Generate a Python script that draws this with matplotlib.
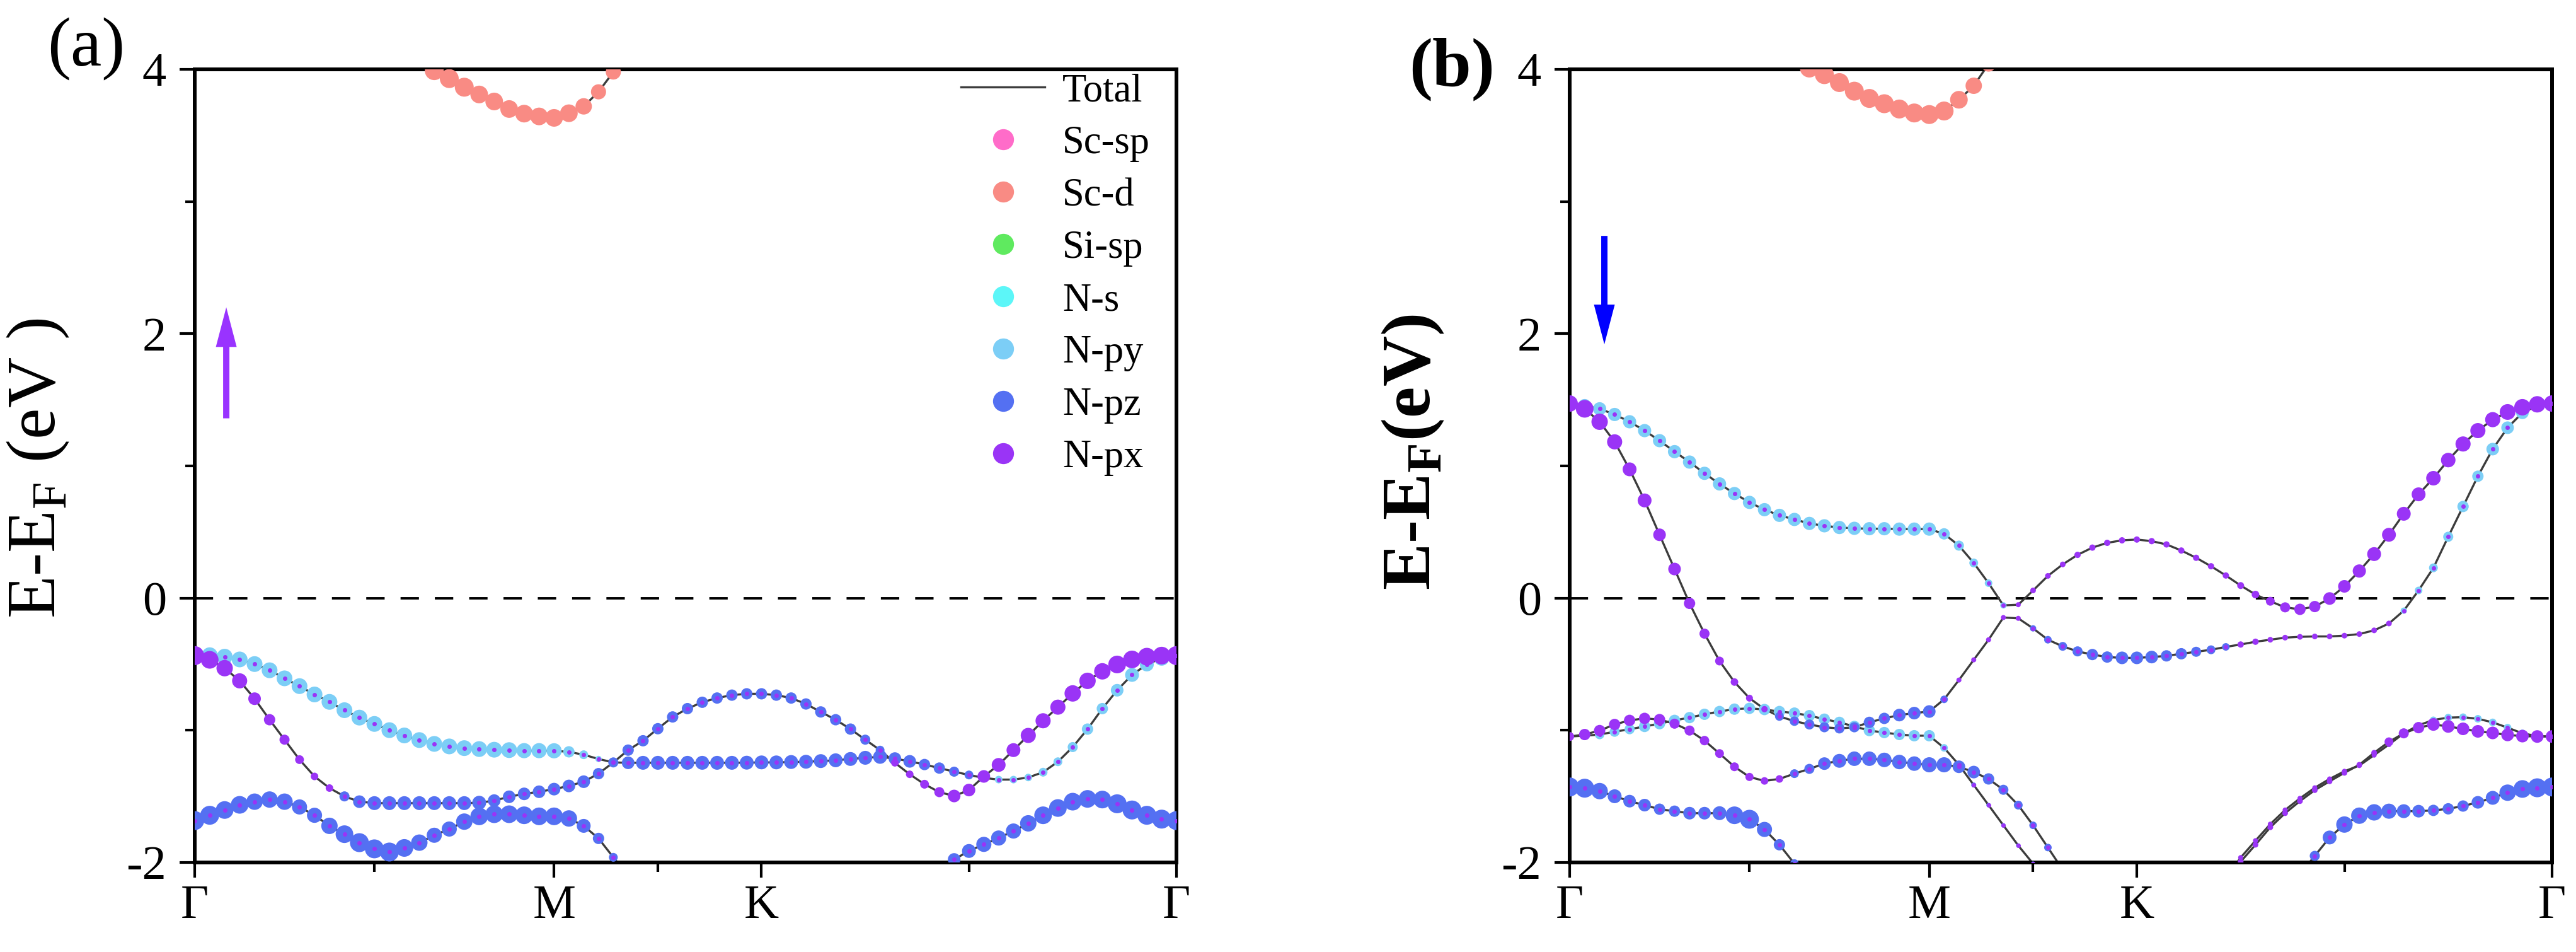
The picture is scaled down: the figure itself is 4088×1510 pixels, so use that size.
import numpy as np
import matplotlib
matplotlib.use("Agg")
import matplotlib.pyplot as plt
from matplotlib.lines import Line2D
from matplotlib.patches import FancyArrow

plt.rcParams["font.family"] = ["Liberation Serif", "DejaVu Serif"]
plt.rcParams["mathtext.fontset"] = "custom"
plt.rcParams["mathtext.rm"] = "Liberation Serif"
plt.rcParams["mathtext.bf"] = "Liberation Serif:bold"
plt.rcParams["axes.unicode_minus"] = False

W, H, DPI = 4088, 1510, 100
PX = 72.0 / DPI  # points per pixel
nan = np.nan

# k-path (hexagonal BZ)
K_LABELS = ["Γ", "M", "K", "Γ"]
K_NODES = [0.0, 0.5774, 0.9107, 1.5774]
K_GRID = [
    0.0000, 0.0241, 0.0481, 0.0722, 0.0962, 0.1203, 0.1443, 0.1684, 0.1925, 0.2165,
    0.2406, 0.2646, 0.2887, 0.3128, 0.3368, 0.3609, 0.3849, 0.4090, 0.4331, 0.4571,
    0.4812, 0.5052, 0.5293, 0.5533, 0.5774,
    0.6012, 0.6250, 0.6488, 0.6726, 0.6964, 0.7203, 0.7441, 0.7679, 0.7917, 0.8155,
    0.8393, 0.8631, 0.8869, 0.9107,
    0.9345, 0.9583, 0.9821, 1.0059, 1.0298, 1.0536, 1.0774, 1.1012, 1.1250, 1.1488,
    1.1726, 1.1964, 1.2202, 1.2440, 1.2679, 1.2917, 1.3155, 1.3393, 1.3631, 1.3869,
    1.4107, 1.4345, 1.4583, 1.4821, 1.5060, 1.5298, 1.5536, 1.5774,
]
Y_MAJOR = [-2, 0, 2, 4]
Y_MINOR = [-1, 1, 3]

ORBITALS = ["Sc-sp", "Sc-d", "Si-sp", "N-s", "N-py", "N-pz", "N-px"]
ORB_COLORS = ["#FF6CC9", "#F98B84", "#5FEA5F", "#5CF6F8", "#7CCEF6", "#5470F2", "#9A34F6"]
ORB_CODE = {"d": "Sc-d", "y": "N-py", "z": "N-pz", "x": "N-px"}
LINE_COLOR = "#3c3c3c"
CENTER_PX = 7  # small N-px weight shown on every N-p dot

# ---------------- panel (a): spin up ----------------
a1_e = [
    -0.435, -0.432, -0.443, -0.464, -0.499, -0.546, -0.607, -0.666, -0.729, -0.785,
    -0.848, -0.904, -0.952, -0.999, -1.039, -1.074, -1.103, -1.122, -1.135, -1.142,
    -1.147, -1.150, -1.154, -1.154, -1.155,
    -1.163, -1.185, -1.217, -1.243, -1.246, -1.246, -1.246, -1.246, -1.246, -1.246,
    -1.246, -1.246, -1.245, -1.243,
    -1.243, -1.240, -1.238, -1.233, -1.227, -1.217, -1.208, -1.201, -1.214, -1.235,
    -1.259, -1.286, -1.313, -1.338, -1.360, -1.373, -1.373, -1.357, -1.317, -1.238,
    -1.127, -0.991, -0.836, -0.697, -0.581, -0.502, -0.454, -0.435,
]
a1_orb = "y" * 25 + "yyy" + "z" * 11 + "z" * 14 + "y" * 14
a1_size = [
    24, 25, 25, 25, 25, 25, 25, 25, 25, 25,
    25, 25, 25, 25, 25, 25, 25, 25, 25, 25,
    25, 25, 24, 24, 24,
    18, 14, 10, 14, 20, 22, 22, 22, 22, 22,
    22, 22, 22, 22,
    22, 22, 22, 22, 22, 22, 22, 22, 20, 20,
    18, 18, 16, 14, 12, 12, 12, 12, 14, 14,
    16, 18, 18, 20, 22, 22, 24, 24,
]

a2_e = [
    -0.435, -0.467, -0.530, -0.626, -0.761, -0.920, -1.071, -1.222, -1.349, -1.437,
    -1.500, -1.540, -1.551, -1.551, -1.551, -1.551, -1.551, -1.551, -1.551, -1.548,
    -1.532, -1.503, -1.481, -1.465, -1.445,
    -1.421, -1.389, -1.328, -1.243, -1.150, -1.079, -0.988, -0.899, -0.836, -0.788,
    -0.756, -0.734, -0.724, -0.724,
    -0.734, -0.756, -0.801, -0.861, -0.920, -0.991, -1.071, -1.150, -1.246, -1.333,
    -1.408, -1.468, -1.497, -1.452, -1.349, -1.262, -1.150, -1.039, -0.928, -0.825,
    -0.721, -0.626, -0.554, -0.502, -0.464, -0.443, -0.435, -0.435,
]
a2_orb = "x" * 10 + "z" * 15 + "z" * 14 + "z" * 8 + "x" * 20
a2_size = [
    30, 28, 26, 24, 20, 18, 16, 14, 12, 12,
    16, 20, 22, 22, 22, 22, 22, 22, 22, 22,
    20, 20, 20, 20, 20,
    20, 20, 18, 16, 18, 18, 18, 18, 18, 18,
    18, 18, 18, 18,
    18, 18, 18, 18, 18, 18, 16, 14, 12, 12,
    14, 16, 20, 20, 20, 22, 22, 24, 24, 24,
    26, 26, 26, 28, 28, 28, 28, 30,
]

a3_e = [
    -1.683, -1.643, -1.603, -1.564, -1.540, -1.524, -1.540, -1.580, -1.643, -1.723,
    -1.786, -1.850, -1.897, -1.921, -1.890, -1.850, -1.794, -1.747, -1.691, -1.651,
    -1.635, -1.635, -1.643, -1.651, -1.651,
    -1.667, -1.723, -1.818, -1.961, -2.100, nan, nan, nan, nan, nan,
    nan, nan, nan, nan,
    nan, nan, nan, nan, nan, nan, nan, nan, nan, nan,
    nan, -2.050, -1.977, -1.913, -1.863, -1.815, -1.762, -1.704, -1.643, -1.588,
    -1.540, -1.519, -1.524, -1.556, -1.603, -1.643, -1.672, -1.683,
]
a3_orb = "z" * 67
a3_size = [
    30, 30, 28, 28, 26, 26, 26, 24, 24, 26,
    28, 30, 30, 30, 28, 26, 24, 24, 26, 28,
    28, 28, 28, 28, 28,
    26, 22, 18, 14, 14, 0, 0, 0, 0, 0,
    0, 0, 0, 0,
    0, 0, 0, 0, 0, 0, 0, 0, 0, 0,
    0, 14, 20, 22, 24, 24, 24, 26, 28, 28,
    28, 28, 28, 30, 30, 30, 30, 30,
]

a4_e = ([nan] * 15 + [4.08, 3.99, 3.93, 3.865, 3.81, 3.757, 3.70, 3.665, 3.644, 3.633]
        + [3.668, 3.72, 3.83, 3.98, 4.14] + [nan] * 9 + [nan] * 28)
a4_orb = "d" * 67
a4_size = ([0] * 15 + [30, 30, 30, 30, 28, 28, 28, 28, 28, 28]
           + [28, 26, 24, 24, 24] + [0] * 9 + [0] * 28)

# ---------------- panel (b): spin down ----------------
b1_e = [
    1.472, 1.456, 1.432, 1.389, 1.334, 1.267, 1.191, 1.108, 1.029, 0.944,
    0.864, 0.791, 0.724, 0.669, 0.626, 0.595, 0.565, 0.547, 0.534, 0.528,
    0.525, 0.525, 0.522, 0.522, 0.522,
    0.486, 0.397, 0.266, 0.113, -0.055, -0.050, 0.058, 0.168, 0.255, 0.327,
    0.382, 0.418, 0.437, 0.443,
    0.431, 0.406, 0.360, 0.305, 0.241, 0.171, 0.095, 0.027, -0.024, -0.070,
    -0.085, -0.064, -0.003, 0.089, 0.205, 0.333, 0.479, 0.638, 0.785, 0.907,
    1.044, 1.166, 1.267, 1.350, 1.408, 1.444, 1.466, 1.472,
]
b1_orb = "y" * 30 + "x" * 37
b1_size = [
    22, 21, 21, 21, 21, 21, 21, 21, 21, 21,
    21, 21, 21, 21, 21, 21, 21, 21, 21, 21,
    21, 21, 21, 21, 21,
    18, 16, 14, 12, 10, 8, 9, 9, 9, 10,
    10, 10, 10, 10,
    10, 10, 10, 10, 10, 10, 11, 12, 14, 16,
    18, 18, 20, 20, 21, 22, 22, 22, 22, 23,
    23, 24, 24, 24, 25, 26, 26, 26,
]

b2_e = [
    1.472, 1.432, 1.334, 1.182, 0.974, 0.739, 0.479, 0.220, -0.040, -0.269,
    -0.476, -0.635, -0.757, -0.840, -0.895, -0.931, -0.956, -0.977, -0.986, -0.977,
    -0.940, -0.910, -0.885, -0.870, -0.858,
    -0.766, -0.620, -0.467, -0.315, -0.147, -0.153, -0.229, -0.315, -0.365, -0.403,
    -0.427, -0.446, -0.452, -0.452,
    -0.446, -0.437, -0.421, -0.406, -0.391, -0.369, -0.351, -0.330, -0.315, -0.299,
    -0.293, -0.290, -0.290, -0.284, -0.272, -0.244, -0.192, -0.095, 0.058, 0.229,
    0.464, 0.693, 0.922, 1.127, 1.289, 1.402, 1.456, 1.472,
]
b2_orb = "x" * 14 + "z" * 11 + "z" + "x" * 5 + "z" * 8 + "z" * 6 + "x" * 11 + "y" * 11
b2_size = [
    26, 28, 26, 24, 22, 22, 20, 20, 18, 16,
    14, 12, 11, 10, 14, 15, 16, 16, 16, 16,
    18, 18, 20, 20, 20,
    12, 8, 8, 8, 8, 8, 10, 12, 14, 16,
    18, 18, 20, 20,
    20, 18, 18, 16, 14, 12, 10, 10, 9, 9,
    9, 9, 9, 9, 9, 9, 9, 10, 12, 14,
    16, 18, 18, 20, 20, 20, 20, 20,
]

b3_e = [
    -1.047, -1.041, -1.032, -1.011, -0.992, -0.971, -0.950, -0.925, -0.904, -0.879,
    -0.858, -0.840, -0.834, -0.843, -0.858, -0.870, -0.889, -0.916, -0.940, -0.971,
    -1.002, -1.017, -1.032, -1.041, -1.041,
    -1.133, -1.261, -1.414, -1.566, -1.719, -1.872, -2.009, -2.160, nan, nan,
    nan, nan, nan, nan,
    nan, nan, nan, nan, nan, -2.120, -1.963, -1.835, -1.710, -1.603,
    -1.515, -1.435, -1.368, -1.310, -1.267, -1.188, -1.108, -1.023, -0.962, -0.922,
    -0.904, -0.901, -0.913, -0.940, -0.980, -1.023, -1.044, -1.047,
]
b3_orb = "y" * 26 + "z" * 7 + "-" * 11 + "x" * 12 + "y" * 11
b3_size = [
    12, 14, 15, 16, 16, 18, 18, 18, 18, 18,
    18, 18, 18, 18, 18, 18, 18, 18, 18, 18,
    18, 18, 18, 18, 18,
    12, 8, 8, 7, 7, 7, 7, 7, 0, 0,
    0, 0, 0, 0,
    0, 0, 0, 0, 0, 8, 8, 8, 8, 8,
    8, 8, 8, 8, 8, 8, 8, 9, 10, 11,
    12, 12, 12, 12, 12, 12, 12, 12,
]

b4_e = [
    -1.047, -1.032, -1.002, -0.956, -0.925, -0.910, -0.919, -0.950, -1.002, -1.078,
    -1.176, -1.276, -1.353, -1.383, -1.368, -1.328, -1.292, -1.252, -1.231, -1.215,
    -1.215, -1.224, -1.240, -1.252, -1.261,
    -1.261, -1.276, -1.316, -1.368, -1.450, -1.566, -1.719, -1.887, -2.055, nan,
    nan, nan, nan, nan,
    nan, nan, nan, nan, nan, -2.150, -1.994, -1.866, -1.734, -1.627,
    -1.536, -1.453, -1.386, -1.322, -1.261, -1.170, -1.087, -1.023, -0.980, -0.956,
    -0.971, -0.989, -1.008, -1.020, -1.035, -1.044, -1.047, -1.047,
]
b4_orb = "x" * 15 + "z" * 19 + "-" * 10 + "x" * 23
b4_size = [
    14, 18, 18, 18, 18, 18, 18, 16, 16, 15,
    14, 14, 13, 12, 12, 14, 16, 20, 22, 23,
    23, 23, 23, 23, 24,
    24, 20, 20, 18, 16, 14, 12, 12, 10, 0,
    0, 0, 0, 0,
    0, 0, 0, 0, 0, 9, 9, 9, 9, 9,
    9, 9, 9, 9, 9, 9, 14, 16, 18, 20,
    20, 20, 20, 20, 20, 20, 20, 20,
]

b5_e = ([-1.429, -1.438, -1.460, -1.499, -1.536, -1.566, -1.597, -1.612, -1.627, -1.627,
         -1.627, -1.643, -1.673, -1.750, -1.866, -2.009, -2.150] + [nan] * 8
        + [nan] * 14
        + [nan] * 10
        + [-2.090, -1.950, -1.811, -1.713, -1.646, -1.621, -1.612, -1.612, -1.612, -1.606,
           -1.594, -1.573, -1.545, -1.511, -1.472, -1.444, -1.435, -1.429])
b5_orb = "z" * 67
b5_size = ([30, 30, 26, 22, 20, 20, 18, 18, 20, 20, 22, 28, 30, 24, 18, 14, 14] + [0] * 8
           + [0] * 14
           + [0] * 10
           + [14, 16, 22, 26, 26, 26, 24, 22, 20, 18, 18, 18, 20, 22, 26, 28, 30, 30])

b6_e = ([nan] * 15 + [4.20, 4.01, 3.96, 3.90, 3.835, 3.78, 3.74, 3.70, 3.67, 3.658]
        + [3.685, 3.77, 3.876, 4.04, 4.22] + [nan] * 9 + [nan] * 28)
b6_orb = "d" * 67
b6_size = ([0] * 15 + [30] * 10 + [30, 28, 26, 24, 24] + [0] * 9 + [0] * 28)

PANEL_A = [(a1_e, a1_orb, a1_size), (a2_e, a2_orb, a2_size),
           (a3_e, a3_orb, a3_size), (a4_e, a4_orb, a4_size)]
PANEL_B = [(b1_e, b1_orb, b1_size), (b2_e, b2_orb, b2_size), (b3_e, b3_orb, b3_size),
           (b4_e, b4_orb, b4_size), (b5_e, b5_orb, b5_size), (b6_e, b6_orb, b6_size)]

# spin arrows: (k, tail energy, tip energy, colour)
ARROW_A = (0.0507, 1.36, 2.20, "#9933FF")
ARROW_B = (0.0557, 2.74, 1.92, "#0000FF")


def draw_bands(ax, bands):
    k = np.array(K_GRID)
    layers = {c: ([], [], []) for c in "dyzx"}
    cx, cy = [], []
    for e, orb, size in bands:
        e = np.array(e, dtype=float)
        assert len(e) == len(orb) == len(size) == len(k), (len(e), len(orb), len(size))
        ax.plot(k, e, color=LINE_COLOR, lw=2.4, zorder=2)
        for i, c in enumerate(orb):
            if c == "-" or np.isnan(e[i]) or size[i] == 0:
                continue
            layers[c][0].append(k[i])
            layers[c][1].append(e[i])
            layers[c][2].append(size[i])
            if c in "yz":
                cx.append(k[i])
                cy.append(e[i])
    z = 3
    for c in "dyzx":
        xs, ys, ss = layers[c]
        col = ORB_COLORS[ORBITALS.index(ORB_CODE[c])]
        ax.scatter(xs, ys, s=(np.array(ss, dtype=float) * PX) ** 2, color=col,
                   linewidths=0, zorder=z)
        z += 1
    ax.scatter(cx, cy, s=(CENTER_PX * PX) ** 2, color=ORB_COLORS[-1],
               linewidths=0, zorder=z)


def style_axes(ax):
    ax.set_xlim(K_NODES[0], K_NODES[-1])
    ax.set_ylim(-2, 4)
    ax.set_xticks(K_NODES)
    ax.set_xticklabels(K_LABELS)
    ax.set_xticks([(a + b) / 2 for a, b in zip(K_NODES[:-1], K_NODES[1:])], minor=True)
    ax.set_yticks(Y_MAJOR)
    ax.set_yticklabels([str(v) for v in Y_MAJOR])
    ax.set_yticks(Y_MINOR, minor=True)
    ax.tick_params(which="major", direction="out", length=17.5, width=3, labelsize=55)
    ax.tick_params(which="minor", direction="out", length=11, width=3)
    ax.tick_params(axis="y", which="major", pad=15)
    ax.tick_params(axis="x", which="major", pad=8)
    for sp in ax.spines.values():
        sp.set_linewidth(4.3)
    ax.axhline(0, color="black", lw=2.8, ls=(0, (7.5, 6.5)), zorder=1)


def add_arrow(ax, spec):
    k, y0, y1, col = spec
    ax.add_patch(FancyArrow(k, y0, 0, y1 - y0, width=0.0101, head_width=0.0334,
                            head_length=0.30, length_includes_head=True,
                            color=col, lw=0, zorder=10))


fig = plt.figure(figsize=(W / DPI, H / DPI), dpi=DPI)
ax_a = fig.add_axes([309 / W, (H - 1368) / H, 1558 / W, 1258 / H])
ax_b = fig.add_axes([2491 / W, (H - 1368) / H, 1559 / W, 1258 / H])

draw_bands(ax_a, PANEL_A)
draw_bands(ax_b, PANEL_B)
for ax in (ax_a, ax_b):
    style_axes(ax)
add_arrow(ax_a, ARROW_A)
add_arrow(ax_b, ARROW_B)

handles = [Line2D([], [], color=LINE_COLOR, lw=2.4, label="Total")]
for name, col in zip(ORBITALS, ORB_COLORS):
    handles.append(Line2D([], [], ls="none", marker="o", ms=24, mfc=col, mec="none",
                          label=name))
ax_a.legend(handles=handles, loc="upper left", bbox_to_anchor=((1525 - 309) / 1558, 0.995),
            frameon=False, fontsize=45, handlelength=2.13, handletextpad=0.45,
            labelspacing=0.40, borderpad=0, borderaxespad=0)

fig.text(137 / W, 1 - 78 / H, "(a)", fontsize=80, ha="center", va="center")
fig.text(2304 / W, 1 - 110 / H, "(b)", fontsize=80, fontweight="bold",
         ha="center", va="center")
fig.text(60 / W, 1 - 743 / H, r"E-E$_\mathrm{F}$ (eV )", fontsize=80, rotation=90,
         ha="center", va="center")
fig.text(2242 / W, 1 - 717 / H, r"E-E$_\mathbf{F}$(eV)", fontsize=80, fontweight="bold",
         rotation=90, ha="center", va="center")

fig.savefig("out.png", dpi=DPI)
